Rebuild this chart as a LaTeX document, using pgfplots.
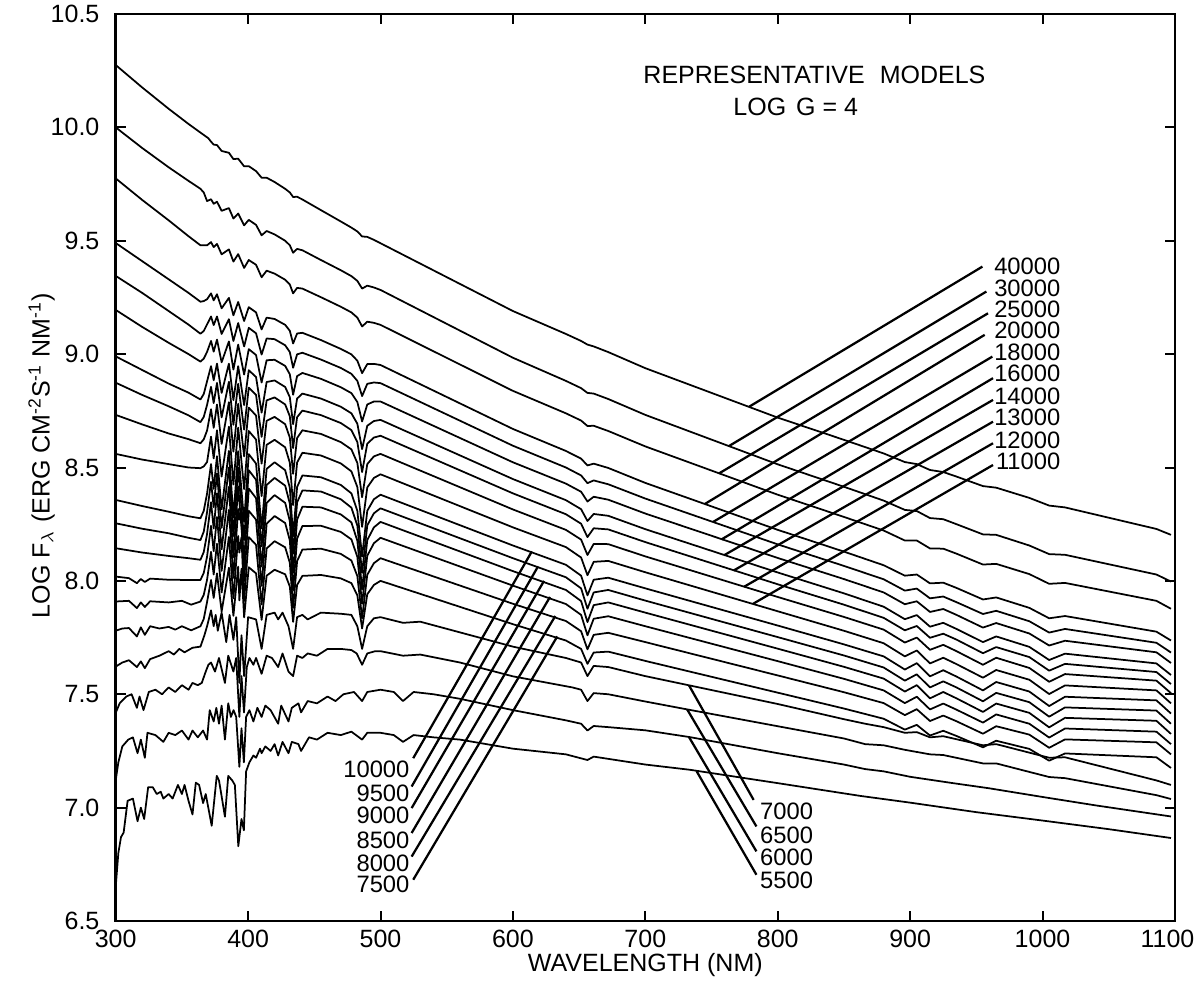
\documentclass[border=0pt]{standalone}
\usepackage{fontspec}
\setmainfont{Liberation Sans}
\usepackage{pgfplots}
\pgfplotsset{compat=1.18}
\pgfplotsset{spec/.style={black, line width=0.7pt, line join=round, mark=none}}
\begin{document}
\begin{tikzpicture}
\useasboundingbox (-46.28pt,-25.2pt) rectangle (431.72pt,368.4pt);
\begin{axis}[
  at={(0,0)}, anchor=south west,
  scale only axis, width=423.7pt, height=362.8pt,
  xmin=300, xmax=1100, ymin=6.5, ymax=10.5,
  xtick={300,400,500,600,700,800,900,1000,1100},
  xticklabels={300,400,500,600,700,800,900,1000,\kern-6pt1100},
  ytick={6.5,7,7.5,8,8.5,9,9.5,10,10.5},
  yticklabels={6.5,7.0,7.5,8.0,8.5,9.0,9.5,10.0,10.5},
  tick align=inside, major tick length=4pt,
  every tick/.style={black, line width=0.8pt},
  axis line style={line width=1pt},
  ticklabel style={font=\fontsize{10}{12}\selectfont},
  yticklabel style={xshift=-3pt},
  xlabel={WAVELENGTH (NM)},
  xlabel style={at={(axis description cs:0.5,-0.0485)}, anchor=center, font=\fontsize{10}{12}\selectfont},
  ylabel={LOG F$_{\lambda}$ (ERG CM\textsuperscript{-2}S\textsuperscript{-1} NM\textsuperscript{-1})},
  ylabel style={at={(axis description cs:-0.0699,0.513)}, anchor=center, font=\fontsize{10}{12}\selectfont},
]
% 40000
\addplot[spec] coordinates {(300,10.275)(320,10.176)(340,10.082)(355,10.015)(364,9.977)(370,9.952)(372,9.937)(374,9.924)(376.5,9.922)(380,9.896)(385.5,9.888)(388.9,9.860)(392.5,9.862)(397,9.828)(400.5,9.829)(406,9.807)(410.2,9.778)(414,9.778)(420,9.759)(428,9.729)(431.5,9.713)(434,9.693)(437,9.694)(441,9.682)(455,9.635)(470,9.585)(478,9.558)(482.5,9.541)(486.1,9.519)(490,9.517)(495,9.504)(500,9.489)(600,9.190)(640,9.089)(651.5,9.058)(656.3,9.042)(661,9.034)(672,9.009)(700,8.938)(800,8.720)(850,8.622)(880,8.562)(896,8.524)(905,8.515)(915,8.489)(925,8.480)(935,8.460)(955,8.418)(965,8.411)(990,8.366)(1005,8.332)(1017,8.324)(1086,8.229)(1097,8.203)};
% 30000
\addplot[spec] coordinates {(300,10.000)(320,9.909)(340,9.824)(355,9.764)(364,9.729)(366.5,9.713)(369,9.675)(372,9.683)(374,9.663)(376.5,9.672)(380,9.632)(385.5,9.644)(388.9,9.598)(392.5,9.620)(397,9.568)(400.5,9.592)(406,9.570)(410.2,9.524)(414,9.543)(420,9.528)(428,9.500)(431.5,9.480)(434,9.447)(437,9.464)(441,9.458)(455,9.415)(470,9.370)(478,9.344)(482.5,9.323)(486.1,9.289)(490,9.302)(495,9.294)(500,9.283)(600,8.984)(640,8.882)(651.5,8.850)(656.3,8.829)(661,8.826)(672,8.802)(700,8.732)(800,8.514)(850,8.415)(880,8.354)(896,8.313)(905,8.308)(915,8.277)(925,8.272)(935,8.250)(955,8.205)(965,8.203)(990,8.156)(1005,8.118)(1017,8.115)(1086,8.028)(1097,7.997)};
% 25000
\addplot[spec] coordinates {(300,9.775)(320,9.680)(340,9.590)(355,9.520)(364,9.480)(366.5,9.480)(369,9.480)(372,9.494)(374,9.472)(376.5,9.486)(380,9.440)(385.5,9.462)(388.9,9.408)(392.5,9.441)(397,9.380)(400.5,9.415)(406,9.394)(410.2,9.339)(414,9.368)(420,9.355)(428,9.328)(431.5,9.307)(434,9.268)(437,9.292)(441,9.289)(455,9.251)(470,9.209)(478,9.184)(482.5,9.161)(486.1,9.122)(490,9.143)(495,9.138)(500,9.129)(600,8.838)(640,8.739)(651.5,8.707)(656.3,8.683)(661,8.684)(672,8.661)(700,8.593)(800,8.380)(850,8.282)(880,8.222)(896,8.178)(905,8.178)(915,8.143)(925,8.142)(935,8.120)(955,8.072)(965,8.075)(990,8.030)(1005,7.987)(1017,7.991)(1086,7.912)(1097,7.877)};
% 20000
\addplot[spec] coordinates {(300,9.490)(320,9.410)(340,9.330)(355,9.270)(364,9.231)(366.5,9.234)(369,9.242)(372,9.268)(374,9.237)(376.5,9.264)(380,9.202)(385.5,9.248)(388.9,9.171)(392.5,9.230)(397,9.146)(400.5,9.207)(406,9.184)(410.2,9.109)(414,9.161)(420,9.155)(428,9.129)(431.5,9.103)(434,9.047)(437,9.091)(441,9.094)(455,9.062)(470,9.023)(478,8.999)(482.5,8.971)(486.1,8.916)(490,8.956)(495,8.957)(500,8.952)(600,8.670)(640,8.573)(651.5,8.539)(656.3,8.509)(661,8.517)(672,8.498)(700,8.432)(800,8.225)(850,8.129)(880,8.069)(896,8.023)(905,8.028)(915,7.989)(925,7.992)(935,7.969)(955,7.918)(965,7.927)(990,7.881)(1005,7.835)(1017,7.845)(1086,7.776)(1097,7.737)};
% 18000
\addplot[spec] coordinates {(300,9.345)(320,9.270)(340,9.190)(355,9.130)(364,9.090)(366.5,9.102)(369,9.131)(372,9.166)(374,9.128)(376.5,9.166)(380,9.089)(385.5,9.154)(388.9,9.058)(392.5,9.137)(397,9.034)(400.5,9.116)(406,9.092)(410.2,8.998)(414,9.069)(420,9.066)(428,9.039)(431.5,9.009)(434,8.940)(437,8.999)(441,9.006)(455,8.976)(470,8.939)(478,8.913)(482.5,8.882)(486.1,8.815)(490,8.869)(495,8.875)(500,8.872)(600,8.596)(640,8.500)(651.5,8.465)(656.3,8.431)(661,8.443)(672,8.426)(700,8.363)(800,8.161)(850,8.066)(880,8.007)(896,7.957)(905,7.966)(915,7.923)(925,7.931)(935,7.906)(955,7.854)(965,7.868)(990,7.822)(1005,7.772)(1017,7.788)(1086,7.727)(1097,7.684)};
% 16000
\addplot[spec] coordinates {(300,9.195)(320,9.120)(340,9.050)(355,9.000)(364,8.967)(366.5,8.980)(369,9.010)(372,9.058)(374,9.011)(376.5,9.064)(380,8.964)(385.5,9.056)(388.9,8.932)(392.5,9.042)(397,8.910)(400.5,9.022)(406,8.996)(410.2,8.875)(414,8.973)(420,8.975)(428,8.948)(431.5,8.911)(434,8.821)(437,8.903)(441,8.917)(455,8.891)(470,8.854)(478,8.828)(482.5,8.789)(486.1,8.703)(490,8.778)(495,8.791)(500,8.791)(600,8.523)(640,8.429)(651.5,8.393)(656.3,8.350)(661,8.371)(672,8.358)(700,8.297)(800,8.101)(850,8.008)(880,7.949)(896,7.897)(905,7.910)(915,7.863)(925,7.876)(935,7.850)(955,7.794)(965,7.814)(990,7.768)(1005,7.715)(1017,7.736)(1086,7.685)(1097,7.638)};
% 14000
\addplot[spec] coordinates {(300,8.990)(320,8.930)(340,8.870)(355,8.830)(364,8.800)(366.5,8.824)(369,8.880)(372,8.947)(374,8.885)(376.5,8.958)(380,8.829)(385.5,8.958)(388.9,8.797)(392.5,8.947)(397,8.775)(400.5,8.929)(406,8.899)(410.2,8.742)(414,8.877)(420,8.884)(428,8.855)(431.5,8.810)(434,8.691)(437,8.804)(441,8.826)(455,8.804)(470,8.768)(478,8.739)(482.5,8.693)(486.1,8.581)(490,8.684)(495,8.705)(500,8.710)(600,8.449)(640,8.356)(651.5,8.316)(656.3,8.264)(661,8.295)(672,8.287)(700,8.228)(800,8.037)(850,7.945)(880,7.886)(896,7.831)(905,7.849)(915,7.798)(925,7.815)(935,7.788)(955,7.730)(965,7.755)(990,7.709)(1005,7.651)(1017,7.679)(1086,7.636)(1097,7.585)};
% 13000
\addplot[spec] coordinates {(300,8.874)(320,8.820)(340,8.770)(355,8.730)(364,8.700)(366.5,8.723)(369,8.776)(372,8.856)(374,8.784)(376.5,8.873)(380,8.721)(385.5,8.878)(388.9,8.688)(392.5,8.869)(397,8.667)(400.5,8.852)(406,8.820)(410.2,8.635)(414,8.796)(420,8.809)(428,8.778)(431.5,8.726)(434,8.586)(437,8.722)(441,8.751)(455,8.731)(470,8.696)(478,8.665)(482.5,8.612)(486.1,8.480)(490,8.605)(495,8.632)(500,8.640)(600,8.386)(640,8.294)(651.5,8.252)(656.3,8.193)(661,8.232)(672,8.227)(700,8.171)(800,7.985)(850,7.895)(880,7.837)(896,7.782)(905,7.801)(915,7.749)(925,7.767)(935,7.741)(955,7.681)(965,7.708)(990,7.664)(1005,7.604)(1017,7.634)(1086,7.598)(1097,7.545)};
% 12000
\addplot[spec] coordinates {(300,8.732)(320,8.690)(340,8.650)(355,8.625)(364,8.607)(366.5,8.624)(369,8.663)(372,8.757)(374,8.675)(376.5,8.778)(380,8.604)(385.5,8.788)(388.9,8.570)(392.5,8.781)(397,8.549)(400.5,8.764)(406,8.729)(410.2,8.517)(414,8.706)(420,8.723)(428,8.691)(431.5,8.632)(434,8.472)(437,8.630)(441,8.664)(455,8.648)(470,8.612)(478,8.580)(482.5,8.520)(486.1,8.369)(490,8.515)(495,8.549)(500,8.560)(600,8.315)(640,8.225)(651.5,8.182)(656.3,8.114)(661,8.163)(672,8.162)(700,8.108)(800,7.929)(850,7.841)(880,7.785)(896,7.728)(905,7.750)(915,7.696)(925,7.718)(935,7.690)(955,7.630)(965,7.661)(990,7.616)(1005,7.555)(1017,7.589)(1086,7.560)(1097,7.505)};
% 11000
\addplot[spec] coordinates {(300,8.560)(320,8.535)(340,8.515)(355,8.500)(364,8.497)(366.5,8.505)(369,8.524)(372,8.636)(374,8.540)(376.5,8.664)(380,8.460)(385.5,8.680)(388.9,8.425)(392.5,8.676)(397,8.405)(400.5,8.661)(406,8.623)(410.2,8.374)(414,8.600)(420,8.622)(428,8.589)(431.5,8.521)(434,8.334)(437,8.522)(441,8.565)(455,8.553)(470,8.518)(478,8.483)(482.5,8.414)(486.1,8.238)(490,8.412)(495,8.454)(500,8.470)(600,8.236)(640,8.149)(651.5,8.103)(656.3,8.025)(661,8.084)(672,8.088)(700,8.038)(800,7.866)(850,7.780)(880,7.725)(896,7.667)(905,7.693)(915,7.636)(925,7.661)(935,7.633)(955,7.573)(965,7.607)(990,7.564)(1005,7.501)(1017,7.539)(1086,7.517)(1097,7.460)};
% 10000
\addplot[spec] coordinates {(300,8.357)(320,8.330)(340,8.305)(355,8.285)(364,8.276)(366.5,8.309)(369,8.385)(372,8.515)(374,8.406)(376.5,8.550)(380,8.316)(385.5,8.573)(388.9,8.280)(392.5,8.572)(397,8.261)(400.5,8.559)(406,8.517)(410.2,8.232)(414,8.494)(420,8.523)(428,8.488)(431.5,8.411)(434,8.196)(437,8.414)(441,8.465)(455,8.457)(470,8.423)(478,8.386)(482.5,8.309)(486.1,8.107)(490,8.309)(495,8.360)(500,8.380)(600,8.156)(640,8.071)(651.5,8.023)(656.3,7.936)(661,8.005)(672,8.014)(700,7.967)(800,7.803)(850,7.720)(880,7.667)(896,7.609)(905,7.637)(915,7.579)(925,7.606)(935,7.578)(955,7.517)(965,7.554)(990,7.512)(1005,7.448)(1017,7.489)(1086,7.473)(1097,7.415)};
% 9500
\addplot[spec] coordinates {(300,8.254)(320,8.230)(340,8.210)(355,8.190)(364,8.180)(366.5,8.217)(369,8.303)(372,8.437)(374,8.325)(376.5,8.474)(380,8.234)(385.5,8.500)(388.9,8.198)(392.5,8.500)(397,8.180)(400.5,8.488)(406,8.446)(410.2,8.152)(414,8.423)(420,8.454)(428,8.420)(431.5,8.341)(434,8.120)(437,8.346)(441,8.399)(455,8.394)(470,8.360)(478,8.323)(482.5,8.244)(486.1,8.035)(490,8.245)(495,8.298)(500,8.320)(600,8.100)(640,8.016)(651.5,7.967)(656.3,7.877)(661,7.949)(672,7.960)(700,7.913)(800,7.752)(850,7.671)(880,7.618)(896,7.560)(905,7.588)(915,7.530)(925,7.557)(935,7.530)(955,7.469)(965,7.506)(990,7.465)(1005,7.401)(1017,7.442)(1086,7.428)(1097,7.370)};
% 9000
\addplot[spec] coordinates {(300,8.144)(320,8.125)(340,8.110)(355,8.100)(364,8.093)(366.5,8.127)(369,8.207)(372,8.347)(374,8.231)(376.5,8.386)(380,8.139)(385.5,8.415)(388.9,8.105)(392.5,8.417)(397,8.088)(400.5,8.407)(406,8.365)(410.2,8.063)(414,8.344)(420,8.378)(428,8.344)(431.5,8.264)(434,8.035)(437,8.270)(441,8.327)(455,8.324)(470,8.293)(478,8.258)(482.5,8.177)(486.1,7.963)(490,8.180)(495,8.236)(500,8.260)(600,8.043)(640,7.960)(651.5,7.911)(656.3,7.818)(661,7.893)(672,7.905)(700,7.860)(800,7.701)(850,7.621)(880,7.569)(896,7.512)(905,7.540)(915,7.482)(925,7.510)(935,7.482)(955,7.422)(965,7.459)(990,7.418)(1005,7.354)(1017,7.396)(1086,7.383)(1097,7.325)};
% 8500
\addplot[spec] coordinates {(300,8.019)(310,8.012)(316,7.990)(319,8.008)(322,7.995)(326,8.010)(340,8.005)(355,8.004)(364,8.004)(366.5,8.035)(369,8.107)(372,8.243)(374,8.131)(376.5,8.282)(380,8.044)(385.5,8.313)(388.9,8.013)(392.5,8.317)(393.4,8.270)(395,8.320)(397,7.999)(400.5,8.309)(406,8.270)(410.2,7.978)(414,8.252)(420,8.286)(428,8.255)(431.5,8.179)(434,7.958)(437,8.186)(441,8.242)(455,8.243)(470,8.216)(478,8.183)(482.5,8.106)(486.1,7.899)(490,8.111)(495,8.166)(500,8.190)(600,7.979)(640,7.898)(651.5,7.850)(656.3,7.760)(661,7.833)(672,7.844)(700,7.800)(800,7.646)(850,7.568)(880,7.517)(896,7.461)(905,7.489)(915,7.433)(925,7.459)(935,7.432)(955,7.375)(965,7.411)(990,7.370)(1005,7.309)(1017,7.349)(1086,7.335)(1097,7.280)};
% 8000
\addplot[spec] coordinates {(300,7.909)(310,7.912)(316,7.880)(319,7.905)(322,7.885)(326,7.910)(340,7.905)(350,7.912)(357,7.895)(364,7.909)(366.5,7.938)(369,8.005)(372,8.128)(374,8.028)(376.5,8.164)(380,7.949)(385.5,8.194)(388.9,7.923)(392.5,8.198)(393.4,8.125)(395,8.193)(397,7.912)(400.5,8.193)(406,8.159)(410.2,7.896)(414,8.143)(420,8.175)(428,8.148)(431.5,8.080)(434,7.881)(437,8.087)(441,8.138)(455,8.142)(470,8.119)(478,8.090)(482.5,8.021)(486.1,7.835)(490,8.027)(495,8.078)(500,8.100)(600,7.899)(640,7.823)(651.5,7.778)(656.3,7.698)(661,7.762)(672,7.771)(700,7.730)(800,7.583)(850,7.509)(880,7.461)(896,7.408)(905,7.434)(915,7.382)(925,7.406)(935,7.381)(955,7.326)(965,7.359)(990,7.322)(1005,7.264)(1017,7.301)(1086,7.288)(1097,7.235)};
% 7500
\addplot[spec] coordinates {(300,7.780)(305,7.790)(310,7.792)(316,7.755)(319,7.795)(322,7.762)(326,7.800)(333,7.790)(340,7.797)(345,7.785)(350,7.800)(357,7.782)(364,7.800)(366.5,7.832)(369,7.907)(372,8.004)(374,7.925)(376.5,8.033)(380,7.865)(385.5,8.058)(388.9,7.846)(392.5,8.063)(393.4,7.914)(395,8.053)(397,7.839)(400.5,8.060)(406,8.033)(410.2,7.828)(414,8.023)(420,8.049)(428,8.029)(431.5,7.975)(434,7.819)(437,7.982)(441,8.022)(455,8.026)(470,8.011)(478,7.990)(482.5,7.936)(486.1,7.790)(490,7.941)(495,7.982)(500,8.000)(600,7.809)(640,7.737)(651.5,7.700)(656.3,7.634)(661,7.684)(672,7.688)(700,7.647)(800,7.507)(850,7.437)(880,7.392)(896,7.344)(905,7.365)(915,7.318)(925,7.339)(935,7.316)(955,7.266)(965,7.295)(990,7.259)(1005,7.207)(1017,7.239)(1086,7.222)(1097,7.175)};
% 7000
\addplot[spec] coordinates {(300,7.622)(305,7.640)(310,7.650)(316,7.620)(319,7.645)(322,7.615)(326,7.655)(333,7.670)(340,7.690)(344,7.675)(348,7.700)(352,7.685)(358,7.705)(364,7.710)(367,7.760)(369,7.800)(372,7.870)(374,7.800)(375.5,7.850)(377.1,7.780)(380,7.860)(383.5,7.730)(386,7.850)(388.9,7.740)(391,7.840)(393.4,7.550)(395,7.760)(397,7.580)(400,7.840)(406,7.830)(410.2,7.700)(414,7.850)(420,7.860)(422.7,7.830)(426,7.860)(430.5,7.800)(434,7.700)(437,7.840)(441,7.850)(445,7.830)(455,7.860)(470,7.855)(478,7.850)(482.5,7.800)(486.1,7.700)(490,7.800)(495,7.835)(500,7.840)(517,7.815)(530,7.820)(600,7.710)(640,7.660)(651.5,7.640)(656.3,7.580)(661,7.625)(672,7.620)(700,7.580)(800,7.457)(850,7.390)(866,7.370)(880,7.355)(896,7.330)(905,7.333)(915,7.310)(925,7.315)(955,7.275)(965,7.280)(1005,7.220)(1017,7.222)(1086,7.120)(1097,7.100)};
% 6500
\addplot[spec] coordinates {(300,7.418)(303,7.460)(308,7.490)(312,7.500)(316,7.440)(318,7.490)(321,7.430)(325,7.510)(330,7.520)(335,7.500)(340,7.530)(345,7.510)(350,7.540)(355,7.520)(358,7.550)(362,7.540)(365,7.550)(368,7.600)(370,7.630)(372,7.640)(375,7.600)(378,7.660)(382.5,7.550)(385,7.670)(388.9,7.600)(391,7.660)(393.4,7.400)(395,7.580)(396.9,7.420)(399,7.620)(401,7.660)(404,7.630)(406,7.660)(410.2,7.590)(414,7.670)(418,7.660)(422.7,7.620)(426,7.680)(430.5,7.600)(434,7.580)(437,7.670)(441,7.660)(445,7.680)(452,7.670)(460,7.700)(470,7.700)(478,7.695)(482,7.680)(486.1,7.630)(490,7.680)(496,7.690)(500,7.690)(517,7.670)(530,7.675)(560,7.640)(600,7.579)(645,7.530)(651.5,7.520)(656.3,7.470)(661,7.505)(672,7.500)(700,7.468)(733.6,7.431)(800,7.359)(850,7.305)(866,7.280)(880,7.275)(896,7.255)(915,7.235)(925,7.232)(955,7.195)(965,7.195)(1005,7.135)(1017,7.130)(1086,7.055)(1097,7.038)};
% 6000
\addplot[spec] coordinates {(300,7.120)(302,7.200)(305,7.270)(309.5,7.300)(313,7.310)(316.5,7.240)(319,7.300)(322,7.220)(324,7.330)(330,7.320)(336,7.290)(340,7.330)(345,7.320)(350,7.340)(355,7.300)(358,7.340)(362,7.310)(366,7.340)(369,7.300)(371,7.430)(374,7.380)(376,7.440)(378,7.370)(380,7.450)(382.5,7.300)(385,7.460)(387,7.400)(389,7.430)(391,7.400)(393.4,7.180)(395,7.350)(396.8,7.200)(398.5,7.400)(401,7.430)(404,7.380)(407,7.440)(410.2,7.400)(413,7.450)(417,7.430)(422.7,7.370)(425,7.450)(430.5,7.380)(433,7.440)(438,7.460)(440,7.420)(445,7.470)(452,7.460)(460,7.490)(466,7.470)(472,7.500)(480,7.510)(486.1,7.470)(490,7.510)(500,7.520)(510,7.510)(517,7.470)(525,7.510)(540,7.500)(560,7.480)(580,7.455)(600,7.430)(640,7.385)(651.5,7.370)(656.3,7.340)(661,7.360)(672,7.355)(700,7.341)(733.6,7.311)(800,7.240)(850,7.190)(866,7.170)(880,7.160)(900,7.136)(930,7.110)(960,7.085)(1000,7.047)(1040,7.010)(1097,6.961)};
% 5500
\addplot[spec] coordinates {(300,6.650)(302,6.800)(304,6.870)(306,6.890)(309,7.030)(313,7.040)(316.5,6.940)(319,7.000)(321.5,6.950)(324.5,7.090)(328,7.090)(331,7.060)(334,7.070)(336,7.040)(340,7.060)(343,7.040)(347,7.100)(350,7.060)(352,7.100)(355,7.030)(358,6.970)(360.5,7.110)(363,7.100)(366,7.020)(368,7.060)(372.5,6.920)(376.3,7.140)(378,7.120)(380,7.050)(382.5,6.960)(385,7.140)(388,7.120)(390,7.100)(392.6,6.830)(395,6.950)(396.8,6.900)(398.5,7.160)(401,7.200)(404,7.230)(406,7.220)(409,7.260)(410.2,7.240)(413,7.270)(417,7.250)(420,7.280)(422.7,7.230)(426,7.290)(430.5,7.240)(433,7.290)(438,7.280)(440,7.250)(446,7.310)(452,7.300)(460,7.330)(470,7.320)(478,7.335)(486.1,7.300)(490,7.330)(500,7.330)(510,7.320)(517,7.290)(525,7.320)(540,7.310)(560,7.300)(580,7.280)(600,7.260)(640,7.235)(656.3,7.210)(661,7.225)(700,7.190)(733.6,7.167)(800,7.108)(862,7.052)(900,7.022)(950,6.980)(1000,6.943)(1050,6.905)(1097,6.866)};

% title
\node[font=\fontsize{10}{12}\selectfont] at (axis cs:827.7,10.231) {REPRESENTATIVE\hspace{0.6em}MODELS};
\node[font=\fontsize{10}{12}\selectfont] at (axis cs:813.6,10.091) {LOG\hspace{0.4em}G = 4};

% leader lines
\begin{scope}[line width=0.9pt]
\draw (axis cs:954.6,9.386) -- (axis cs:778.4,8.768);
\draw (axis cs:957.6,9.276) -- (axis cs:763.3,8.595);
\draw (axis cs:958.8,9.180) -- (axis cs:755.7,8.474);
\draw (axis cs:956.3,9.085) -- (axis cs:744.9,8.339);
\draw (axis cs:962.1,8.989) -- (axis cs:751.2,8.260);
\draw (axis cs:962.6,8.894) -- (axis cs:757.6,8.183);
\draw (axis cs:962.6,8.798) -- (axis cs:759.5,8.113);
\draw (axis cs:962.6,8.702) -- (axis cs:766.8,8.046);
\draw (axis cs:962.6,8.607) -- (axis cs:774.6,7.974);
\draw (axis cs:962.6,8.511) -- (axis cs:781.4,7.899);
\draw (axis cs:524.7,7.218) -- (axis cs:614.3,8.130);
\draw (axis cs:523.5,7.093) -- (axis cs:619.0,8.064);
\draw (axis cs:523.5,6.998) -- (axis cs:623.5,8.000);
\draw (axis cs:523.5,6.888) -- (axis cs:628.0,7.929);
\draw (axis cs:523.5,6.784) -- (axis cs:632.0,7.845);
\draw (axis cs:524.7,6.682) -- (axis cs:633.5,7.755);
\draw (axis cs:781.8,7.034) -- (axis cs:733.0,7.539);
\draw (axis cs:783.9,6.917) -- (axis cs:731.6,7.433);
\draw (axis cs:783.9,6.807) -- (axis cs:733.0,7.311);
\draw (axis cs:783.9,6.704) -- (axis cs:738.7,7.161);
\end{scope}

\begin{scope}[every node/.style={font=\fontsize{9.5}{10}\selectfont, inner sep=0pt}]
\node[anchor=east] at (axis cs:1013.8,9.389) {40000};
\node[anchor=east] at (axis cs:1013.8,9.292) {30000};
\node[anchor=east] at (axis cs:1013.8,9.199) {25000};
\node[anchor=east] at (axis cs:1013.8,9.107) {20000};
\node[anchor=east] at (axis cs:1013.8,9.010) {18000};
\node[anchor=east] at (axis cs:1013.8,8.917) {16000};
\node[anchor=east] at (axis cs:1013.8,8.816) {14000};
\node[anchor=east] at (axis cs:1013.8,8.723) {13000};
\node[anchor=east] at (axis cs:1013.8,8.622) {12000};
\node[anchor=east] at (axis cs:1013.8,8.529) {11000};
\node[anchor=east] at (axis cs:522.2,7.167) {10000};
\node[anchor=east] at (axis cs:522.2,7.064) {9500};
\node[anchor=east] at (axis cs:522.2,6.964) {9000};
\node[anchor=east] at (axis cs:522.2,6.858) {8500};
\node[anchor=east] at (axis cs:522.2,6.755) {8000};
\node[anchor=east] at (axis cs:522.2,6.660) {7500};
\node[anchor=west] at (axis cs:786.4,6.983) {7000};
\node[anchor=west] at (axis cs:786.4,6.880) {6500};
\node[anchor=west] at (axis cs:786.4,6.780) {6000};
\node[anchor=west] at (axis cs:786.4,6.678) {5500};
\end{scope}
\end{axis}
\end{tikzpicture}
\end{document}
